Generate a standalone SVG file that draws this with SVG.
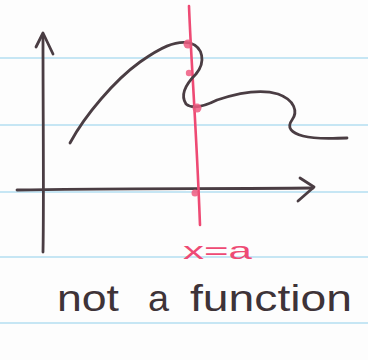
<svg xmlns="http://www.w3.org/2000/svg" width="368" height="360" viewBox="0 0 368 360">
<style>
.rule{stroke:#b3def0;stroke-width:1.5}
.ink{fill:none;stroke:#4a3d43;stroke-width:2.8;stroke-linecap:round;stroke-linejoin:round}
.red{fill:none;stroke:#ee4a74;stroke-width:2.6;stroke-linecap:round}
.dot{fill:#ee5a80;opacity:0.85}
.hand{font-family:"Liberation Sans",Arial,sans-serif}
</style>
<rect width="368" height="360" fill="#fdfdfd"/>
<g id="paper">
<line class="rule" x1="0" y1="58" x2="368" y2="58"/>
<line class="rule" x1="0" y1="125" x2="368" y2="125"/>
<line class="rule" x1="0" y1="192" x2="368" y2="192"/>
<line class="rule" x1="0" y1="257" x2="368" y2="257"/>
<line class="rule" x1="0" y1="323" x2="368" y2="323"/>
</g>
<g id="axes">
<path class="ink" d="M43,252 C44,200 43,120 43,36"/>
<path class="ink" d="M36,47 L43,33 L53,54"/>
<path class="ink" d="M17,190 C100,188 220,189 313,188"/>
<path class="ink" d="M300,178 L314,187 L298,201"/>
</g>
<g id="vertical-line">
<path class="red" d="M189,6 C191,60 196,120 200,225"/>
<circle class="dot" cx="195" cy="193" r="3.5"/>
</g>
<g id="curve">
<path class="ink" d="M70,143 C85,115 115,80 140,62 C160,48 175,40 190,43 C203,47 206,62 196,74 C186,84 180,95 186,104 C193,110 205,106 217,100 C235,94 258,88 278,94 C295,100 298,112 292,120 C286,128 292,133 303,136 C318,140 335,138 347,138"/>
<circle class="dot" cx="188" cy="44" r="4.5"/>
<circle class="dot" cx="189" cy="73" r="3.2"/>
<circle class="dot" cx="197" cy="108" r="4.5"/>
</g>
<g id="labels">
<text class="hand" x="183" y="259" font-size="24" fill="#ee4a74" textLength="69" lengthAdjust="spacingAndGlyphs">x=a</text>
<text class="hand" x="57" y="311" font-size="36" fill="#3e3338" textLength="62" lengthAdjust="spacingAndGlyphs">not</text>
<text class="hand" x="148" y="311" font-size="36" fill="#3e3338" textLength="21" lengthAdjust="spacingAndGlyphs">a</text>
<text class="hand" x="190" y="311" font-size="36" fill="#3e3338" textLength="162" lengthAdjust="spacingAndGlyphs">function</text>
</g>
</svg>
